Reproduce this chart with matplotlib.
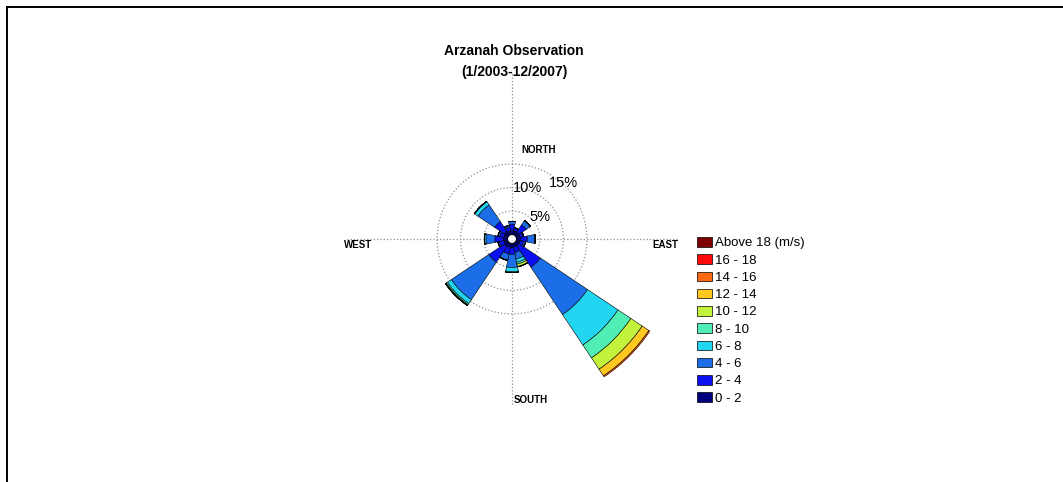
import numpy as np
import matplotlib
matplotlib.use('Agg')
import matplotlib.pyplot as plt
from matplotlib.lines import Line2D
from matplotlib.patches import Patch

plt.rcParams['font.family'] = ['Liberation Sans', 'DejaVu Sans']

W, H = 1063, 482

# 16 compass directions (degrees, clockwise from north)
directions = ['N', 'NNE', 'NE', 'ENE', 'E', 'ESE', 'SE', 'SSE',
              'S', 'SSW', 'SW', 'WSW', 'W', 'WNW', 'NW', 'NNW']
dir_deg = [0, 22.5, 45, 67.5, 90, 112.5, 135, 157.5,
           180, 202.5, 225, 247.5, 270, 292.5, 315, 337.5]

# frequency (%) per speed bin, one value per direction
spd_0_2 = [0.9, 0.8, 0.9, 0.8, 0.9, 0.8, 0.8, 0.8, 0.9, 0.8, 1.0, 0.8, 0.9, 0.8, 1.0, 0.8]
spd_2_4 = [1.3, 0.6, 1.8, 0.6, 1.4, 0.8, 5.5, 1.2, 1.4, 1.5, 4.0, 1.0, 1.8, 0.9, 2.5, 0.8]
spd_4_6 = [0.6, 0.1, 1.0, 0.2, 1.6, 0.4, 12.1, 1.4, 2.8, 1.3, 9.6, 0.3, 1.9, 0.4, 4.3, 0.4]
spd_6_8 = [0.0, 0.0, 0.1, 0.0, 0.1, 0.0, 7.8, 0.7, 0.9, 0.1, 1.0, 0.0, 0.3, 0.0, 0.8, 0.0]
spd_8_10 = [0.0, 0.0, 0.0, 0.0, 0.0, 0.0, 3.3, 0.4, 0.2, 0.0, 0.3, 0.0, 0.0, 0.0, 0.1, 0.0]
spd_10_12 = [0.0, 0.0, 0.0, 0.0, 0.0, 0.0, 2.9, 0.5, 0.0, 0.0, 0.1, 0.0, 0.0, 0.0, 0.0, 0.0]
spd_12_14 = [0.0, 0.0, 0.0, 0.0, 0.0, 0.0, 1.7, 0.1, 0.0, 0.0, 0.1, 0.0, 0.0, 0.0, 0.0, 0.0]
spd_14_16 = [0.0, 0.0, 0.0, 0.0, 0.0, 0.0, 0.3, 0.0, 0.0, 0.0, 0.0, 0.0, 0.0, 0.0, 0.0, 0.0]
spd_16_18 = [0.0, 0.0, 0.0, 0.0, 0.0, 0.0, 0.2, 0.0, 0.0, 0.0, 0.0, 0.0, 0.0, 0.0, 0.0, 0.0]
spd_18_up = [0.0, 0.0, 0.0, 0.0, 0.0, 0.0, 0.2, 0.0, 0.0, 0.0, 0.0, 0.0, 0.0, 0.0, 0.0, 0.0]

bins = [spd_0_2, spd_2_4, spd_4_6, spd_6_8, spd_8_10,
        spd_10_12, spd_12_14, spd_14_16, spd_16_18, spd_18_up]
bin_labels = ['0 - 2', '2 - 4', '4 - 6', '6 - 8', '8 - 10',
              '10 - 12', '12 - 14', '14 - 16', '16 - 18', 'Above 18 (m/s)']
bin_colors = ['#00007F', '#0A10F0', '#1C6EE8', '#22D6F2', '#50EDB5',
              '#C2F23C', '#FFC81E', '#FF6A10', '#FF0A0A', '#7F0000']

ring_vals = [5, 10, 15]
ring_labels = ['5%', '10%', '15%']


def px(x, y):
    # pixel position (top-left origin) -> figure fraction
    return x / W, 1 - y / H


fig = plt.figure(figsize=(W / 100, H / 100), dpi=100)

cx, cy, R = 512, 239, 166
ax = fig.add_axes([(cx - R) / W, 1 - (cy + R) / H, 2 * R / W, 2 * R / H],
                  projection='polar')
ax.set_theta_zero_location('N')
ax.set_theta_direction(-1)

theta = np.deg2rad(dir_deg)
width = 2 * np.pi / len(dir_deg)
bottom = np.zeros(len(dir_deg))
handles = []
for vals, lab, col in zip(bins, bin_labels, bin_colors):
    vals = np.array(vals)
    ax.bar(theta, vals, width=width, bottom=bottom, color=col,
           edgecolor='black', linewidth=0.4, align='center', zorder=3)
    bottom = bottom + vals
    handles.append(Patch(facecolor=col, edgecolor='black', linewidth=0.5, label=lab))

ax.set_ylim(0, 34.4)
ax.set_rorigin(-0.96)
ax.spines['polar'].set_visible(False)
ax.set_yticks(ring_vals)
ax.set_yticklabels([])
ax.set_xticks(np.deg2rad([0, 90, 180, 270]))
ax.set_xticklabels([])
ax.grid(True, color='#909090', linestyle=':', linewidth=0.9)
ax.set_facecolor('none')

# ring labels
for lab, (x, y) in zip(ring_labels, [(540, 217), (528, 188), (563, 183)]):
    fig.text(*px(x, y), lab, ha='center', va='center', fontsize=10.5)

# compass labels
for lab, (x, y) in zip(['NORTH', 'EAST', 'SOUTH', 'WEST'],
                       [(539, 150), (665, 245), (531, 400), (358, 245)]):
    fig.text(*px(x, y), lab, ha='center', va='center', fontsize=7, fontweight='bold')

fig.text(*px(514, 51), 'Arzanah Observation', ha='center', va='center',
         fontsize=10, fontweight='bold')
fig.text(*px(514, 72), '(1/2003-12/2007)', ha='center', va='center',
         fontsize=10, fontweight='bold')

leg = fig.legend(handles=handles[::-1], loc='upper left',
                 bbox_to_anchor=px(697, 237), frameon=False, fontsize=9.5,
                 handlelength=1.15, handleheight=0.75, handletextpad=0.25,
                 labelspacing=0.365, borderpad=0, borderaxespad=0)

# border lines (top and left)
fig.add_artist(Line2D([6.5 / W, 1], [1 - 6.5 / H, 1 - 6.5 / H], color='black', linewidth=1.4))
fig.add_artist(Line2D([6.5 / W, 6.5 / W], [0, 1 - 6.5 / H], color='black', linewidth=1.4))

fig.savefig('out.png', dpi=100)
